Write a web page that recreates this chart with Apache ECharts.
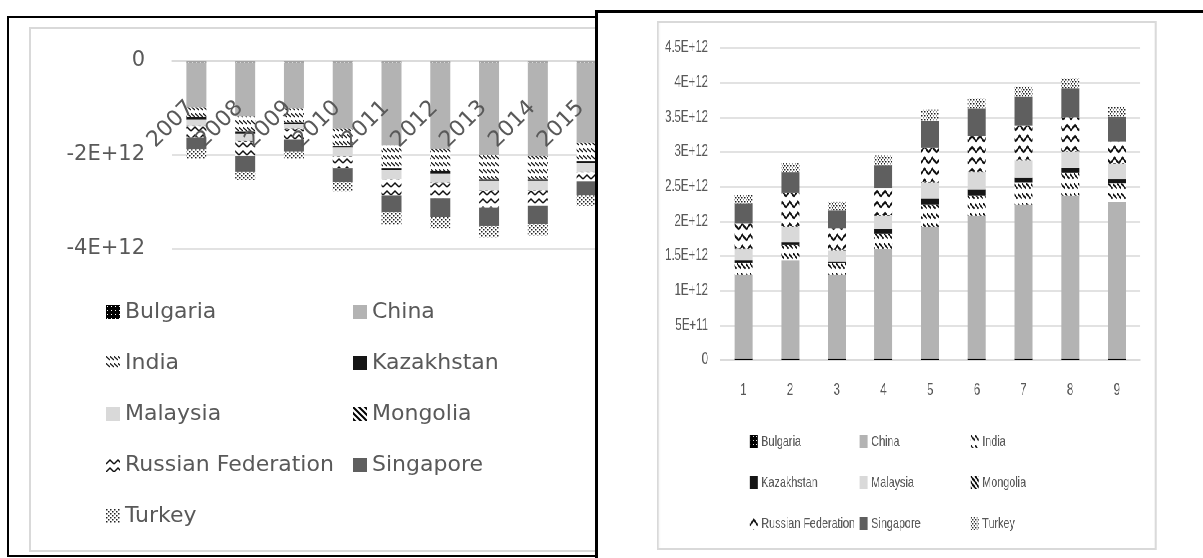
<!DOCTYPE html>
<html>
<head>
<meta charset="utf-8">
<title>trade</title>
<script src="https://cdn.jsdelivr.net/npm/echarts@6/dist/echarts.min.js"></script>
<style>
  body { margin: 0; background: #fff; }
  .frame { position: absolute; box-sizing: border-box; border: 2px solid #000; background: #fff; }
  .chart { position: absolute; box-sizing: border-box; border: 2px solid #d9d9d9; background: #fff; }
  #left-frame { left: 7px; top: 16px; width: 640px; height: 541px; z-index: 1; }
  #left-chart { left: 29px; top: 27px; width: 620px; height: 525px; z-index: 1; }
  #right-frame { left: 595px; top: 10px; width: 640px; height: 560px; border-width: 3px; z-index: 2; }
  /* the right picture is squeezed sideways, like the source image */
  #right-chart { left: 657px; top: 21px; width: 694px; height: 529px; z-index: 3;
    border-left-width: 3px; border-right-width: 3px;
    transform: scaleX(0.72); transform-origin: 0 0; }
</style>
</head>
<body>
<div class="frame" id="left-frame"></div>
<div class="chart" id="left-chart"></div>
<div class="frame" id="right-frame"></div>
<div class="chart" id="right-chart"></div>
<script>
var countries = ['Bulgaria', 'China', 'India', 'Kazakhstan', 'Malaysia', 'Mongolia', 'Russian Federation', 'Singapore', 'Turkey']

// left chart, 2007-2015 (negative values)
var years = ['2007', '2008', '2009', '2010', '2011', '2012', '2013', '2014', '2015']
var leftBulgaria = [-0.03e12, -0.03e12, -0.03e12, -0.03e12, -0.03e12, -0.03e12, -0.03e12, -0.03e12, -0.03e12]
var leftChina = [-0.96e12, -1.15e12, -0.98e12, -1.41e12, -1.77e12, -1.84e12, -1.97e12, -1.99e12, -1.71e12]
var leftIndia = [-0.2e12, -0.32e12, -0.3e12, -0.37e12, -0.48e12, -0.47e12, -0.52e12, -0.5e12, -0.39e12]
var leftKazakhstan = [-0.06e12, -0.05e12, -0.03e12, -0.03e12, -0.04e12, -0.06e12, -0.03e12, -0.03e12, -0.04e12]
var leftMalaysia = [-0.13e12, -0.15e12, -0.1e12, -0.19e12, -0.19e12, -0.19e12, -0.2e12, -0.2e12, -0.19e12]
var leftMongolia = [-0.01e12, -0.02e12, -0.01e12, -0.01e12, -0.01e12, -0.01e12, -0.01e12, -0.01e12, -0.01e12]
var leftRussia = [-0.24e12, -0.3e12, -0.22e12, -0.24e12, -0.34e12, -0.32e12, -0.36e12, -0.32e12, -0.19e12]
var leftSingapore = [-0.25e12, -0.34e12, -0.26e12, -0.3e12, -0.36e12, -0.4e12, -0.39e12, -0.39e12, -0.3e12]
var leftTurkey = [-0.2e12, -0.17e12, -0.15e12, -0.19e12, -0.26e12, -0.24e12, -0.24e12, -0.24e12, -0.22e12]

// right chart, categories 1-9
var periods = ['1', '2', '3', '4', '5', '6', '7', '8', '9']
var rightBulgaria = [0.02e12, 0.02e12, 0.02e12, 0.02e12, 0.02e12, 0.02e12, 0.02e12, 0.02e12, 0.02e12]
var rightChina = [1.21e12, 1.42e12, 1.21e12, 1.58e12, 1.9e12, 2.06e12, 2.22e12, 2.35e12, 2.26e12]
var rightIndia = [0.17e12, 0.22e12, 0.17e12, 0.22e12, 0.32e12, 0.29e12, 0.32e12, 0.33e12, 0.27e12]
var rightKazakhstan = [0.04e12, 0.04e12, 0.02e12, 0.07e12, 0.09e12, 0.09e12, 0.07e12, 0.07e12, 0.06e12]
var rightMalaysia = [0.16e12, 0.22e12, 0.16e12, 0.19e12, 0.23e12, 0.25e12, 0.25e12, 0.23e12, 0.22e12]
var rightMongolia = [0.01e12, 0.01e12, 0.01e12, 0.01e12, 0.01e12, 0.01e12, 0.01e12, 0.01e12, 0.01e12]
var rightRussia = [0.36e12, 0.48e12, 0.31e12, 0.39e12, 0.49e12, 0.51e12, 0.49e12, 0.49e12, 0.31e12]
var rightSingapore = [0.29e12, 0.3e12, 0.26e12, 0.33e12, 0.39e12, 0.4e12, 0.42e12, 0.42e12, 0.36e12]
var rightTurkey = [0.12e12, 0.13e12, 0.12e12, 0.14e12, 0.16e12, 0.14e12, 0.14e12, 0.14e12, 0.14e12]

var leftData = [leftBulgaria, leftChina, leftIndia, leftKazakhstan, leftMalaysia, leftMongolia, leftRussia, leftSingapore, leftTurkey]
var rightData = [rightBulgaria, rightChina, rightIndia, rightKazakhstan, rightMalaysia, rightMongolia, rightRussia, rightSingapore, rightTurkey]

var squeeze = 0.72 // horizontal scale of the right picture

function tile (w, h, draw) {
  var c = document.createElement('canvas')
  c.width = w
  c.height = h
  var ctx = c.getContext('2d')
  ctx.fillStyle = '#fff'
  ctx.fillRect(0, 0, w, h)
  draw(ctx, w, h)
  return { image: c, repeat: 'repeat' }
}

// excel-like fill patterns, k = scale
function makeFills (k) {
  return [
    tile(4, 4, function (ctx) { // bulgaria: black with white dots
      ctx.fillStyle = '#000'
      ctx.fillRect(0, 0, 4, 4)
      ctx.fillStyle = '#fff'
      ctx.fillRect(1, 1, 1, 1)
    }),
    '#b3b3b3',
    tile(Math.round(4 * k), Math.round(7 * k), function (ctx) { // india: dashed downward diagonal
      ctx.strokeStyle = '#111'
      ctx.lineWidth = 1.3 * k
      ctx.beginPath()
      ctx.moveTo(-0.5, 0)
      ctx.lineTo(4 * k, 4 * k)
      ctx.stroke()
    }),
    '#151515',
    '#d9d9d9',
    tile(6, 6, function (ctx) { // mongolia: wide downward diagonal
      ctx.strokeStyle = '#000'
      ctx.lineWidth = 2
      ctx.beginPath()
      ctx.moveTo(-1, -1); ctx.lineTo(7, 7)
      ctx.moveTo(-1, 5); ctx.lineTo(1, 7)
      ctx.moveTo(5, -1); ctx.lineTo(7, 1)
      ctx.stroke()
    }),
    tile(Math.round(8 * k), Math.round(8 * k), function (ctx) { // russia: zigzag
      ctx.strokeStyle = '#111'
      ctx.lineWidth = 1.5 * k
      ctx.beginPath()
      ctx.moveTo(0, 6 * k)
      ctx.lineTo(4 * k, 2 * k)
      ctx.lineTo(8 * k, 6 * k)
      ctx.stroke()
    }),
    '#5f5f5f',
    tile(4, 4, function (ctx) { // turkey: dotted grid
      ctx.fillStyle = '#222'
      ctx.fillRect(0, 0, 1.5, 1.5)
      ctx.fillRect(2, 2, 1.5, 1.5)
    })
  ]
}

function buildSeries (data, fills, barWidth) {
  var list = []
  for (var i = 0; i < countries.length; i++) {
    list.push({
      name: countries[i],
      type: 'bar',
      stack: 'total',
      barWidth: barWidth,
      data: data[i],
      itemStyle: { color: fills[i] }
    })
  }
  return list
}

function legendColumn (names, left, top, gap, font) {
  return {
    data: names,
    orient: 'vertical',
    left: left,
    top: top,
    itemGap: gap,
    itemWidth: font.iconW,
    itemHeight: font.iconH,
    icon: 'rect',
    textStyle: { color: '#595959', fontSize: font.size, fontFamily: font.family }
  }
}

function leftLabel (v) {
  if (v === 0) return '0'
  return Math.round(v / 1e12) + 'E+12'
}

function rightLabel (v) {
  if (v === 0) return '0'
  if (Math.abs(v) < 1e12) return Math.round(v / 1e11) + 'E+11'
  return (Math.round(v / 1e11) / 10) + 'E+12'
}

var leftFont = { size: 22, family: 'DejaVu Sans', iconW: 14, iconH: 14 }
var rightFont = { size: 15, family: '"Liberation Sans", Arial, sans-serif', iconW: 11, iconH: 13 }

var leftChart = echarts.init(document.getElementById('left-chart'))
leftChart.setOption({
  animation: false,
  grid: { left: 141, top: 32, width: 439, height: 188 },
  xAxis: {
    type: 'category',
    data: years,
    position: 'bottom',
    offset: -188, // category axis sits on the zero line at the top
    z: 10,
    axisLine: { onZero: false, lineStyle: { color: '#d9d9d9', width: 1.5 } },
    axisTick: { show: false },
    axisLabel: { rotate: 45, margin: 38, padding: [0, 8, 0, 0], color: '#595959', fontSize: 22, fontFamily: leftFont.family }
  },
  yAxis: {
    type: 'value',
    min: -4e12,
    max: 0,
    interval: 2e12,
    axisLabel: { formatter: leftLabel, margin: 27, color: '#595959', fontSize: 21, fontFamily: leftFont.family },
    splitLine: { lineStyle: { color: '#d9d9d9', width: 1.5 } }
  },
  legend: [
    legendColumn(['Bulgaria', 'India', 'Malaysia', 'Russian Federation', 'Turkey'], 70, 267, 29, leftFont),
    legendColumn(['China', 'Kazakhstan', 'Mongolia', 'Singapore'], 317, 267, 29, leftFont)
  ],
  series: buildSeries(leftData, makeFills(1), 20)
})

var rightChart = echarts.init(document.getElementById('right-chart'))
rightChart.setOption({
  animation: false,
  grid: { left: 61 / squeeze, top: 25, width: 420 / squeeze, height: 312 },
  xAxis: {
    type: 'category',
    data: periods,
    axisLine: { lineStyle: { color: '#d9d9d9', width: 1.5 } },
    axisTick: { show: false },
    axisLabel: { margin: 23, color: '#595959', fontSize: 16, fontFamily: rightFont.family }
  },
  yAxis: {
    type: 'value',
    min: 0,
    max: 4.5e12,
    interval: 0.5e12,
    axisLabel: { formatter: rightLabel, margin: 12 / squeeze, color: '#595959', fontSize: 16, fontFamily: rightFont.family },
    splitLine: { lineStyle: { color: '#d9d9d9', width: 1.5 } }
  },
  legend: [
    legendColumn(['Bulgaria', 'Kazakhstan', 'Russian Federation'], 87 / squeeze, 406, 26, rightFont),
    legendColumn(['China', 'Malaysia', 'Singapore'], 197 / squeeze, 406, 26, rightFont),
    legendColumn(['India', 'Mongolia', 'Turkey'], 308 / squeeze, 406, 26, rightFont)
  ],
  series: buildSeries(rightData, makeFills(1.4), 18 / squeeze)
})
</script>
</body>
</html>
